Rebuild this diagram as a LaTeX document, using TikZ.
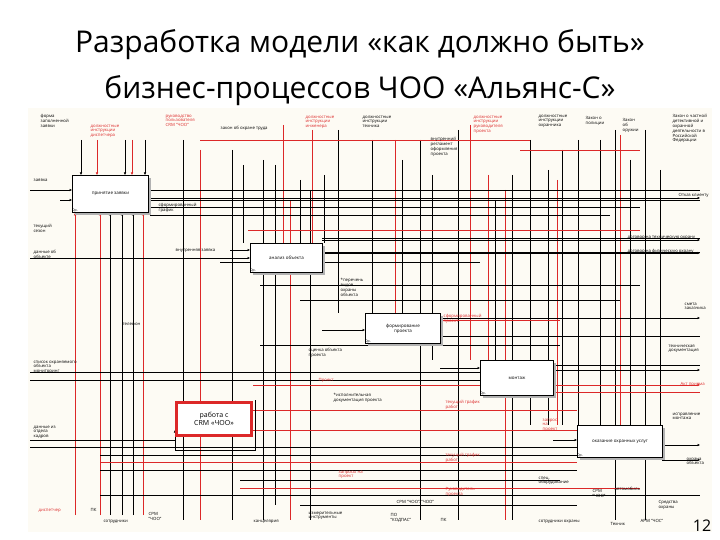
\documentclass[tikz,border=0pt]{standalone}
\usepackage{fontspec}
\setmainfont{Open Sans}
\usetikzlibrary{arrows.meta}
\definecolor{rl}{RGB}{220,40,40}
\definecolor{bg}{RGB}{253,251,244}
\begin{document}
\begin{tikzpicture}[x=1pt,y=-1pt,
  blk/.style={draw=black,line width=0.5pt},
  rd/.style={draw=rl,line width=0.5pt},
  fbox/.style={draw=black,fill=white,line width=1pt,anchor=north west,inner sep=0pt,font=\fontsize{4.5}{5}\selectfont,align=center},
  lbl/.style={font=\fontsize{4.3}{4.8}\selectfont,align=left,anchor=north west,inner sep=0.5pt},
  rlbl/.style={lbl,text=rl},
  ar/.style={-{Latex[length=2.5pt,width=2.5pt]}}]
\useasboundingbox (0,0) rectangle (720,540);
\fill[white] (0,0) rectangle (720,540);
\fill[bg] (28,108) rectangle (712,532);
\node[font=\fontsize{30}{46}\selectfont,align=center] (title) at (360,68) {Разработка модели «как должно быть»\\бизнес-процессов ЧОО «Альянс-С»};
% vertical lines
\foreach \x/\a/\b in {183/140/520,232/150/520,243/165/243,263/160/520,275/165/505,300/180/243,310/190/520,324/175/243,338/130/313,372/140/313,402/160/313,420/140/520,432/175/360,458/130/520,495/200/360,512/175/520,530/140/425,548/170/425,562/150/425,578/140/425,600/140/425,615/130/520,630/160/425,645/130/520,660/170/425}
  \draw[blk] (\x,\a) -- (\x,\b);
\foreach \x/\a/\b in {200/150/520,283/125/243,290/200/520,312/130/243,395/140/313,470/125/360,488/175/360,505/190/520,557/180/425,620/135/425}
  \draw[rd] (\x,\a) -- (\x,\b);
% box 1 verticals
\foreach \x in {81,125,145} \draw[blk,ar] (\x,140) -- (\x,175);
\foreach \x in {97,132} \draw[rd,ar] (\x,140) -- (\x,175);
\foreach \x in {110,122,133} \draw[blk,ar] (\x,515) -- (\x,213);
\foreach \x in {75,100,143} \draw[rd,ar] (\x,515) -- (\x,213);
% horizontals
\foreach \y/\a/\b in {190/148/700,200/148/700,207/150/640,215/150/610,238/322/700,252/322/700,262/220/480,285/260/640,300/300/620,336/440/700,345/260/560,365/553/700,372/30/480,380/30/480,440/30/175,447/30/640,455/100/577,470/100/577,480/240/560,495/100/700,505/300/577}
  \draw[blk] (\a,\y) -- (\b,\y);
\foreach \y/\a/\b in {140/200/530,150/520/640,230/248/640,320/440/560,385/253/480,392/553/700,410/250/577,430/250/577,462/100/577,488/240/640}
  \draw[rd] (\a,\y) -- (\b,\y);
\draw[blk,ar] (30,190) -- (72,190);
\draw[blk,ar] (60,200) -- (72,200);
\draw[blk,ar] (30,258) -- (250,258);
\draw[blk,ar] (230,250) -- (250,250);
\draw[blk,ar] (322,330) -- (365,330);
\draw[blk,ar] (440,368) -- (480,368);
\draw[blk,ar] (553,370) -- (700,370);
\draw[rd,ar] (553,385) -- (700,385);
\draw[blk,ar] (553,440) -- (577,440);
\draw[blk,ar] (662,445) -- (700,445);
\draw[blk,ar] (148,198) -- (700,198);
\draw[blk,ar] (322,240) -- (700,240);
\draw[blk,ar] (322,253) -- (700,253);
\draw[blk,ar] (440,318) -- (700,318);
\draw[blk,ar] (662,460) -- (700,460);
\draw[blk,ar] (255,400) -- (255,450) -- (175,450) -- (175,430);
% boxes
\foreach \x/\y/\w/\h in {72/175/76/37,250/243/72/29,365/313/75/30,480/360/73/35,577/425/85/32}
  \fill[gray!60] (\x+3,\y+3) rectangle (\x+\w+3,\y+\h+3);
\node[fbox,minimum width=76pt,minimum height=37pt] (b1) at (72,175) {принятие заявки};
\node[fbox,minimum width=72pt,minimum height=29pt] (b2) at (250,243) {анализ объекта};
\node[fbox,minimum width=75pt,minimum height=30pt] (b3) at (365,313) {формирование\\проекта};
\node[fbox,minimum width=73pt,minimum height=35pt] (b4) at (480,360) {монтаж};
\node[fbox,draw=rl,line width=3pt,minimum width=75pt,minimum height=33pt,font=\fontsize{7}{8}\selectfont] (b5) at (175,401) {работа с\\CRM «ЧОО»};
\node[fbox,minimum width=85pt,minimum height=32pt] (b6) at (577,425) {оказание охранных услуг};
\foreach \b in {b1,b2,b3,b4,b6} \node[lbl,anchor=south west,font=\fontsize{3.5}{4}\selectfont] (n\b) at (\b.south west) {0р.};
% labels
\node[lbl] (l1) at (40,114) {форма\\заполненной\\заявки};
\node[rlbl] (l2) at (90,124) {должностные\\инструкции\\диспетчера};
\node[rlbl] (l3) at (165,114) {руководство\\пользователя\\CRM "ЧОО"};
\node[lbl] (l4) at (220,126) {закон об охране труда};
\node[rlbl] (l5) at (305,115) {должностные\\инструкции\\инженера};
\node[lbl] (l6) at (362,115) {должностные\\инструкции\\техника};
\node[lbl] (l7) at (430,137) {внутренний\\регламент\\оформления\\проекта};
\node[rlbl] (l8) at (473,115) {должностные\\инструкции\\руководителя\\проекта};
\node[lbl] (l9) at (538,114) {должностные\\инструкции\\охранника};
\node[lbl] (l10) at (585,116) {Закон о\\полиции};
\node[lbl] (l11) at (622,118) {Закон\\об\\оружии};
\node[lbl] (l12) at (672,114) {Закон о частной\\детективной и\\охранной\\деятельности в\\Российской\\Федерации};
\node[lbl] (l13) at (33,178) {заявка};
\node[lbl] (l14) at (33,224) {текущий\\сезон};
\node[lbl] (l15) at (33,250) {данные об\\объекте};
\node[lbl] (l16) at (678,193) {Отказ клиенту};
\node[lbl] (l17) at (627,235) {договор на техническую охрану};
\node[lbl] (l18) at (627,249) {договор на физическую охрану};
\node[lbl] (l19) at (158,203) {сформированный\\график};
\node[lbl] (l20) at (175,248) {внутренняя заявка};
\node[lbl] (l21) at (340,278) {*перечень\\видов\\охраны\\объекта};
\node[rlbl] (l22) at (443,314) {сформированный\\проект};
\node[lbl] (l23) at (684,302) {смета\\заказчика};
\node[lbl] (l24) at (122,322) {телефон};
\node[lbl] (l25) at (668,344) {техническая\\документация};
\node[rlbl] (l26) at (680,382) {Акт приема};
\node[lbl] (l27) at (672,412) {исправление\\монтажа};
\node[lbl] (l28) at (686,457) {охрана\\объекта};
\node[lbl] (l29) at (308,348) {оценка объекта\\проекта};
\node[rlbl] (l30) at (318,378) {Проект};
\node[lbl] (l31) at (333,393) {*исполнительная\\документация проекта};
\node[rlbl] (l32) at (445,400) {текущий график\\работ};
\node[rlbl] (l33) at (542,418) {запрос\\на\\проект};
\node[rlbl] (l34) at (445,453) {текущий график\\работ};
\node[rlbl] (l35) at (338,470) {запросы на\\проект};
\node[lbl] (l36) at (538,476) {спец.\\оборудование};
\node[rlbl] (l37) at (445,487) {Руководитель\\проекта};
\node[lbl] (l38) at (396,500) {СРМ "ЧОО"/"ЧОО"};
\node[lbl] (l39) at (390,513) {ПО\\"КОДПАС"};
\node[lbl] (l40) at (440,518) {ПК};
\node[lbl] (l41) at (538,519) {сотрудники охраны};
\node[lbl] (l42) at (592,489) {СРМ\\"ЧОО"};
\node[lbl] (l43) at (614,487) {автомобиль};
\node[lbl] (l44) at (610,522) {Техник};
\node[lbl] (l45) at (640,519) {АРМ "ЧОС"};
\node[lbl] (l46) at (658,500) {Средства\\охраны};
\node[rlbl] (l47) at (38,508) {диспетчер};
\node[lbl] (l48) at (90,508) {ПК};
\node[lbl] (l49) at (103,519) {сотрудники};
\node[lbl] (l50) at (148,512) {СРМ\\"ЧОО"};
\node[lbl] (l51) at (253,519) {канцелярия};
\node[lbl] (l52) at (308,511) {измерительные\\инструменты};
\node[lbl] (l53) at (33,360) {список охраняемого\\объекта\\мониторинг};
\node[lbl] (l54) at (33,425) {данные из\\отдела\\кадров};
\node[font=\fontsize{16}{18}\selectfont] (pg) at (702,526) {12};
\end{tikzpicture}
\end{document}
